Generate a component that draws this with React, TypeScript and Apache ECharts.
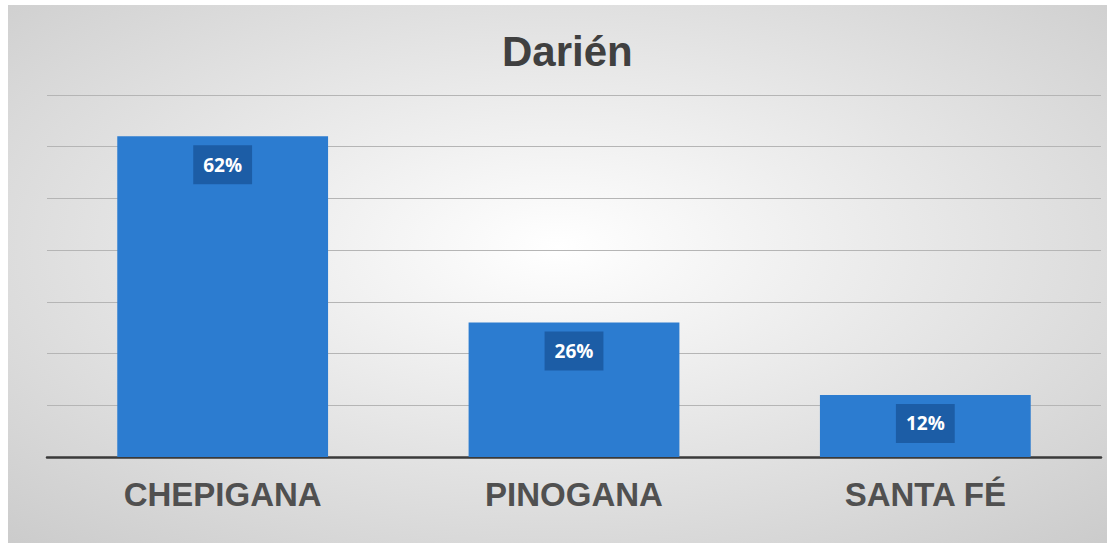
import React, { useEffect, useRef } from "react";
import * as echarts from "echarts";

const title = "Darién";
const categories = ["CHEPIGANA", "PINOGANA", "SANTA FÉ"];
const values = [0.62, 0.26, 0.12];

export default function App() {
  const ref = useRef<HTMLDivElement>(null);
  useEffect(() => {
    if (!ref.current) return;
    const chart = echarts.init(ref.current, undefined, { renderer: "svg" });
    chart.setOption({
      animation: false,
      backgroundColor: new echarts.graphic.RadialGradient(0.5, 0.45, 0.75, [
        { offset: 0, color: "#ffffff" },
        { offset: 1, color: "#cbcbcb" },
      ]),
      title: {
        text: title,
        left: 489,
        top: 20,
        textStyle: {
          fontFamily: "Liberation Sans, Arial, sans-serif",
          fontWeight: "bold",
          fontSize: 42,
          color: "#404040",
        },
      },
      grid: { left: 39, right: 6, top: 90, bottom: 86 },
      xAxis: {
        type: "category",
        data: categories,
        axisLine: { lineStyle: { color: "#3a3a3a", width: 2.5 } },
        axisTick: { show: false },
        axisLabel: {
          margin: 21,
          fontFamily: "Liberation Sans, Arial, sans-serif",
          fontWeight: "bold",
          fontSize: 33,
          color: "#505050",
        },
      },
      yAxis: {
        type: "value",
        min: 0,
        max: 0.7,
        interval: 0.1,
        axisLabel: { show: false },
        axisLine: { show: false },
        axisTick: { show: false },
        splitLine: { lineStyle: { color: "#b5b5b5", width: 1 } },
      },
      series: [
        {
          type: "bar",
          data: values,
          barCategoryGap: "40%",
          itemStyle: { color: "#2c7cd0" },
          label: {
            show: true,
            position: "insideTop",
            distance: 9,
            formatter: (p: any) => Math.round(p.value * 100) + "%",
            backgroundColor: "#1c5da6",
            padding: [10, 10, 10, 10],
            color: "#ffffff",
            fontFamily: "Open Sans, Liberation Sans, sans-serif",
            fontWeight: "bold",
            fontSize: 19,
          },
        },
      ],
    });
    return () => chart.dispose();
  }, []);
  return (
    <div
      ref={ref}
      style={{ position: "absolute", left: 8, top: 5, width: 1099, height: 538 }}
    />
  );
}
